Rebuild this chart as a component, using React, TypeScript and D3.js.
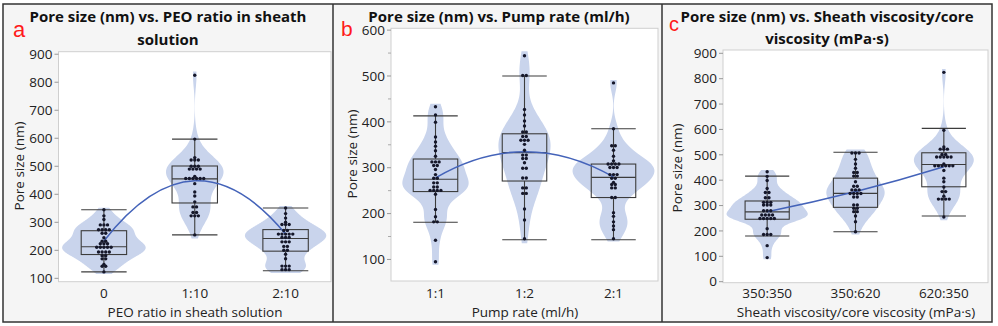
import React from 'react';
import * as d3 from 'd3';

// categories
const peoLabels = ['0', '1:10', '2:10'];
const pumpLabels = ['1:1', '1:2', '2:1'];
const viscLabels = ['350:350', '350:620', '620:350'];

// pore sizes (nm)
const peo0 = [345, 323, 310, 298, 287, 287, 274, 274, 274, 272, 262, 260, 245, 233, 232, 230, 221, 220, 218, 212, 210, 209, 207, 198, 196, 195, 188, 186, 176, 175, 164, 150, 148, 138, 123];
const peo110 = [825, 597, 531, 528, 521, 518, 502, 500, 498, 496, 490, 488, 486, 464, 462, 460, 458, 455, 453, 451, 438, 408, 394, 373, 357, 353, 337, 333, 325, 323, 321, 255];
const peo210 = [351, 331, 315, 300, 298, 290, 288, 272, 270, 262, 260, 259, 258, 251, 250, 249, 239, 237, 228, 226, 215, 213, 201, 199, 186, 170, 147, 145, 139, 137, 129, 127];
const pump11 = [433, 415, 399, 367, 356, 347, 337, 325, 314, 313, 311, 306, 304, 296, 285, 278, 276, 268, 266, 259, 257, 252, 251, 250, 249, 242, 209, 193, 183, 181, 142, 95];
const pump12 = [544, 502, 500, 427, 415, 402, 391, 380, 376, 369, 367, 362, 360, 358, 351, 338, 329, 326, 321, 319, 311, 300, 298, 279, 276, 257, 255, 245, 243, 210, 186, 145];
const pump21 = [485, 385, 350, 346, 338, 325, 315, 310, 309, 307, 306, 302, 300, 299, 287, 285, 283, 278, 276, 268, 266, 261, 259, 253, 236, 234, 202, 194, 182, 173, 165, 145];
const visc350620 = [510, 508, 503, 482, 464, 447, 432, 428, 418, 414, 394, 377, 375, 366, 364, 355, 353, 350, 345, 341, 339, 328, 304, 300, 291, 287, 278, 274, 259, 236, 197];

// box stats: [lower whisker, q1, median, q3, upper whisker]
const peoBox = [[123, 185, 213, 270, 345], [255, 369, 455, 501, 597], [127, 197, 242, 274, 351]];
const pumpBox = [[181, 248, 275, 319, 413], [143, 271, 333, 374, 500], [143, 235, 279, 308, 385]];
const viscBox = [[180, 246, 275, 318, 416], [197, 293, 348, 408, 510], [259, 374, 462, 508, 604]];

// fitted mean line, value at each category
const peoMean = [233, 448, 258];
const pumpMean = [278, 335, 280];
const viscMean = [276, 355, 453];

const peoTicks = d3.range(100, 901, 100);
const pumpTicks = d3.range(100, 601, 100);
const pumpMinor = d3.range(150, 551, 100);
const viscTicks = d3.range(0, 901, 100);

const FONT = '"Open Sans", "Noto Sans", sans-serif';

const panels = [
  {
    letter: 'a', letterPos: [13, 36.5], letterSize: 22,
    title: ['Pore size (nm) vs. PEO ratio in sheath', 'solution'], titleX: 168, titleY: [21.5, 44.5],
    plot: { x0: 58.5, x1: 331, y0: 51.7, y1: 281.7 }, domain: [88, 909],
    ticks: peoTicks, minor: [] as number[],
    labels: peoLabels, groups: [peo0, peo110, peo210], boxes: peoBox, means: peoMean,
    xTitle: 'PEO ratio in sheath solution', xTitleX: 195, yTitleX: 19, yTitleY: 166,
  },
  {
    letter: 'b', letterPos: [341, 36], letterSize: 21,
    title: ['Pore size (nm) vs. Pump rate (ml/h)'], titleX: 499, titleY: [22],
    plot: { x0: 391, x1: 658, y0: 28.3, y1: 281 }, domain: [53, 604],
    ticks: pumpTicks, minor: pumpMinor,
    labels: pumpLabels, groups: [pump11, pump12, pump21], boxes: pumpBox, means: pumpMean,
    xTitle: 'Pump rate (ml/h)', xTitleX: 525, yTitleX: 352, yTitleY: 154,
  },
  {
    letter: 'c', letterPos: [669, 31], letterSize: 20,
    title: ['Pore size (nm) vs. Sheath viscosity/core', 'viscosity (mPa\u00b7s)'], titleX: 827, titleY: [21.5, 43.5],
    plot: { x0: 723, x1: 988, y0: 50, y1: 282.7 }, domain: [-4, 913],
    ticks: viscTicks, minor: [] as number[],
    labels: viscLabels, groups: [pump11, visc350620, peo110], boxes: viscBox, means: viscMean,
    xTitle: 'Sheath viscosity/core viscosity (mPa\u00b7s)', xTitleX: 856, yTitleX: 677, yTitleY: 168,
  },
];

function bandwidth(v: number[]) {
  const s = [...v].sort(d3.ascending);
  const iqr = (d3.quantile(s, 0.75) as number) - (d3.quantile(s, 0.25) as number);
  const sd = d3.deviation(v) as number;
  return 0.9 * Math.min(sd, iqr / 1.34) * Math.pow(v.length, -0.2);
}

function kde(v: number[]) {
  const h = bandwidth(v);
  const lo = (d3.min(v) as number) - 0.3 * h;
  const hi = (d3.max(v) as number) + 0.3 * h;
  const ts = d3.range(lo, hi, (hi - lo) / 160).concat(hi);
  return ts.map(t => [t, (d3.mean(v, x => Math.exp(-0.5 * ((t - x) / h) ** 2)) as number) / (h * Math.sqrt(2 * Math.PI))]);
}

function swarm(v: number[], y: d3.ScaleLinear<number, number>, cx: number) {
  const sorted = [...v].sort(d3.ascending).map(d => y(d));
  const rows: number[][] = [];
  sorted.forEach(py => {
    const last = rows[rows.length - 1];
    if (last && last[0] - py < 3.2) last.push(py);
    else rows.push([py]);
  });
  const pts: [number, number][] = [];
  rows.forEach(r => {
    const ry = d3.mean(r) as number;
    r.forEach((_, i) => pts.push([cx + (i - (r.length - 1) / 2) * 3.6, ry]));
  });
  return pts;
}

function Panel({ cfg, idx }: { cfg: typeof panels[number]; idx: number }) {
  const { plot } = cfg;
  const x = d3.scaleBand().domain(cfg.labels).range([plot.x0, plot.x1]);
  const y = d3.scaleLinear().domain(cfg.domain).range([plot.y1, plot.y0]);
  const bw = x.bandwidth();
  const cx = (i: number) => (x(cfg.labels[i]) as number) + bw / 2;
  const dens = cfg.groups.map(kde);
  const maxD = d3.max(dens.flat(), d => d[1]) as number;
  const w = d3.scaleLinear().domain([0, maxD]).range([0, 0.46 * bw]);
  const boxW = 0.5 * bw;
  const clipId = 'clip' + idx;

  const m = cfg.means;
  const p = d3.path();
  p.moveTo(cx(0), y(m[0]));
  p.quadraticCurveTo(cx(1), 2 * y(m[1]) - (y(m[0]) + y(m[2])) / 2, cx(2), y(m[2]));

  return (
    <g>
      <defs>
        <clipPath id={clipId}>
          <rect x={plot.x0} y={plot.y0} width={plot.x1 - plot.x0} height={plot.y1 - plot.y0} />
        </clipPath>
      </defs>
      <rect x={plot.x0} y={plot.y0} width={plot.x1 - plot.x0} height={plot.y1 - plot.y0} fill="#fff" stroke="#cfcfcf" strokeWidth={1} />
      <g clipPath={`url(#${clipId})`}>
        {dens.map((d, i) => {
          const area = d3.area<number[]>()
            .x0(e => cx(i) - w(e[1])).x1(e => cx(i) + w(e[1]))
            .y(e => y(e[0])).curve(d3.curveBasis);
          return <path key={i} d={area(d) as string} fill="#c9d4ec" />;
        })}
      </g>
      {cfg.boxes.map((b, i) => {
        const c = cx(i);
        return (
          <g key={i} stroke="#3c3c3c" strokeWidth={1.1} fill="none">
            <line x1={c} x2={c} y1={y(b[3])} y2={y(b[4])} />
            <line x1={c} x2={c} y1={y(b[0])} y2={y(b[1])} />
            <line x1={c - boxW / 2} x2={c + boxW / 2} y1={y(b[4])} y2={y(b[4])} />
            <line x1={c - boxW / 2} x2={c + boxW / 2} y1={y(b[0])} y2={y(b[0])} />
            <rect x={c - boxW / 2} y={y(b[3])} width={boxW} height={y(b[1]) - y(b[3])} />
            <line x1={c - boxW / 2} x2={c + boxW / 2} y1={y(b[2])} y2={y(b[2])} />
          </g>
        );
      })}
      <path d={p.toString()} fill="none" stroke="#4463b9" strokeWidth={1.5} />
      {cfg.groups.map((g, i) =>
        swarm(g, y, cx(i)).map((pt, j) => <circle key={i + '-' + j} cx={pt[0]} cy={pt[1]} r={1.7} fill="#15172a" />)
      )}
      {cfg.ticks.map(t => (
        <g key={t}>
          <line x1={plot.x0 - 4} x2={plot.x0} y1={y(t)} y2={y(t)} stroke="#999" />
          <text x={plot.x0 - 6} y={y(t)} dy="0.35em" textAnchor="end" fontSize={13.5} fill="#222">{t}</text>
        </g>
      ))}
      {cfg.minor.map(t => (
        <line key={'m' + t} x1={plot.x0 - 3} x2={plot.x0} y1={y(t)} y2={y(t)} stroke="#aaa" />
      ))}
      {cfg.labels.map((l, i) => (
        <text key={l} x={cx(i)} y={298} textAnchor="middle" fontSize={13.5} fill="#222">{l}</text>
      ))}
      <text x={cfg.xTitleX} y={317} textAnchor="middle" fontSize={13.5} fill="#222">{cfg.xTitle}</text>
      <text transform={`translate(${cfg.yTitleX},${cfg.yTitleY}) rotate(-90)`} dy="0.35em" textAnchor="middle" fontSize={13.5} fill="#222">Pore size (nm)</text>
      {cfg.title.map((t, i) => (
        <text key={i} x={cfg.titleX} y={cfg.titleY[i]} textAnchor="middle" fontSize={15} fontWeight={700} fill="#111">{t}</text>
      ))}
      <text x={cfg.letterPos[0]} y={cfg.letterPos[1]} fontSize={cfg.letterSize} fill="#ff1a1a" fontFamily='"Liberation Sans", Arial, sans-serif'>{cfg.letter}</text>
    </g>
  );
}

export default function App() {
  return (
    <div style={{ position: 'absolute', left: 0, top: 0 }}>
      <svg width={998} height={326} fontFamily={FONT} style={{ display: 'block', background: '#fff' }}>
        <rect x={3} y={4} width={989} height={318} fill="#f5f5f5" stroke="#333" strokeWidth={1.5} />
        <line x1={333} x2={333} y1={4} y2={322} stroke="#333" strokeWidth={1.5} />
        <line x1={662} x2={662} y1={4} y2={322} stroke="#333" strokeWidth={1.5} />
        {panels.map((cfg, i) => <Panel key={i} cfg={cfg} idx={i} />)}
      </svg>
    </div>
  );
}
